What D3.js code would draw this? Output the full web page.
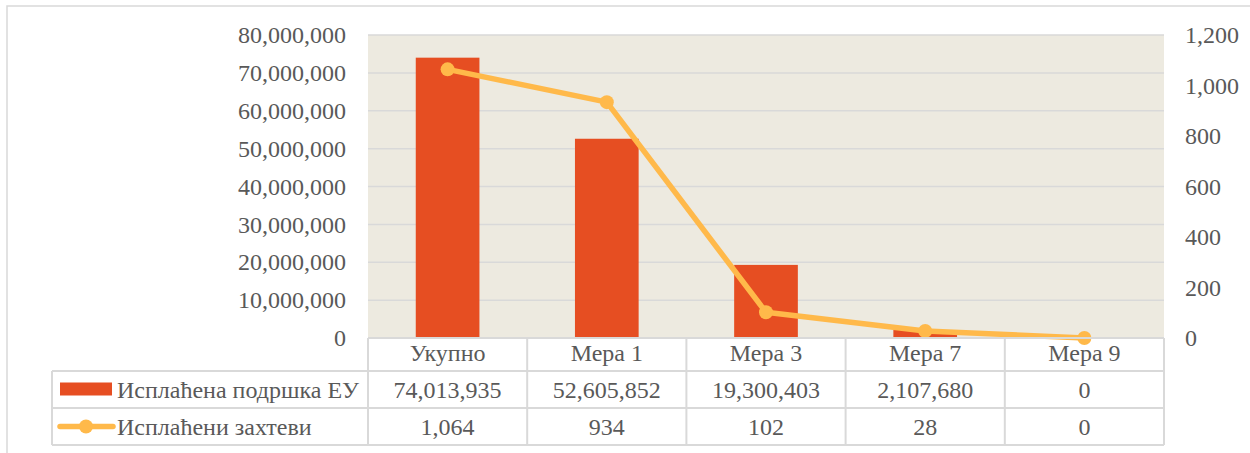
<!DOCTYPE html>
<html>
<head>
<meta charset="utf-8">
<script src="https://cdn.jsdelivr.net/npm/d3@7"></script>
</head>
<body style="margin:0;background:#fff">
<div id="chart"></div>
<script>
// data
const categories = ["Укупно", "Мера 1", "Мера 3", "Мера 7", "Мера 9"]
const support = [74013935, 52605852, 19300403, 2107680, 0]
const claims = [1064, 934, 102, 28, 0]
const seriesNames = ["Исплаћена подршка ЕУ", "Исплаћени захтеви"]
const leftTicks = [0, 10000000, 20000000, 30000000, 40000000, 50000000, 60000000, 70000000, 80000000]
const rightTicks = [0, 200, 400, 600, 800, 1000, 1200]

const w = 1250
const h = 453
const fs = 24
const font = '"Liberation Serif", "Times New Roman", serif'
const textColor = "#595959"
const barColor = "#E64E22"
const lineColor = "#FFB94A"
const gridColor = "#D9D9D9"

// plot box
const pLeft = 368, pRight = 1164, pTop = 35, pBottom = 338
const legendLeft = 52
const rowH = [33, 37, 37]

const svg = d3.select("#chart").append("svg")
  .attr("width", w)
  .attr("height", h)

// outer frame
svg.append("rect")
  .attr("x", 7).attr("y", 6)
  .attr("width", w + 10).attr("height", h + 10)
  .attr("fill", "none")
  .attr("stroke", gridColor)
  .attr("stroke-width", 1.5)

const x = d3.scaleBand().domain(categories).range([pLeft, pRight])
const yL = d3.scaleLinear().domain([0, 80000000]).range([pBottom, pTop])
const yR = d3.scaleLinear().domain([0, 1200]).range([pBottom, pTop])
const fmt = d3.format(",")

svg.append("rect")
  .attr("x", pLeft).attr("y", pTop)
  .attr("width", pRight - pLeft).attr("height", pBottom - pTop)
  .attr("fill", "#EDEAE0")

// gridlines
svg.append("g").selectAll("line")
  .data(leftTicks.slice(1))
  .enter().append("line")
  .attr("x1", pLeft).attr("x2", pRight)
  .attr("y1", d => yL(d)).attr("y2", d => yL(d))
  .attr("stroke", gridColor)
  .attr("stroke-width", 1.5)

const styleText = sel => sel
  .style("font-family", font)
  .style("font-size", fs + "px")
  .style("fill", textColor)

// left axis
const axL = svg.append("g")
  .attr("transform", `translate(${pLeft - 22},0)`)
  .call(d3.axisLeft(yL).tickValues(leftTicks).tickFormat(fmt).tickSize(0).tickPadding(0))
axL.select(".domain").remove()
axL.selectAll("text").call(styleText)

// right axis
const axR = svg.append("g")
  .attr("transform", `translate(${pRight + 21},0)`)
  .call(d3.axisRight(yR).tickValues(rightTicks).tickFormat(fmt).tickSize(0).tickPadding(0))
axR.select(".domain").remove()
axR.selectAll("text").call(styleText)

// bars
const bw = x.bandwidth() * 0.4
svg.append("g").selectAll("rect")
  .data(support)
  .enter().append("rect")
  .attr("x", (d, i) => x(categories[i]) + (x.bandwidth() - bw) / 2)
  .attr("y", d => yL(d))
  .attr("width", bw)
  .attr("height", d => pBottom - yL(d))
  .attr("fill", barColor)

// line
const line = d3.line()
  .x((d, i) => x(categories[i]) + x.bandwidth() / 2)
  .y(d => yR(d))

svg.append("path")
  .datum(claims)
  .attr("d", line)
  .attr("fill", "none")
  .attr("stroke", lineColor)
  .attr("stroke-width", 5.5)
  .attr("stroke-linejoin", "round")

svg.append("g").selectAll("circle")
  .data(claims)
  .enter().append("circle")
  .attr("cx", (d, i) => x(categories[i]) + x.bandwidth() / 2)
  .attr("cy", d => yR(d))
  .attr("r", 7)
  .attr("fill", lineColor)

// data table
const r0 = pBottom, r1 = r0 + rowH[0], r2 = r1 + rowH[1], r3 = r2 + rowH[2]
const tbl = svg.append("g")
const bline = (x1, y1, x2, y2) => tbl.append("line")
  .attr("x1", x1).attr("y1", y1).attr("x2", x2).attr("y2", y2)
  .attr("stroke", gridColor).attr("stroke-width", 2)

bline(pLeft, r0, pRight, r0)
bline(legendLeft, r1, pRight, r1)
bline(legendLeft, r2, pRight, r2)
bline(legendLeft, r3, pRight, r3)
bline(legendLeft, r1, legendLeft, r3)
categories.forEach(c => bline(x(c), r0, x(c), r3))
bline(pRight, r0, pRight, r3)

const cellText = (txt, cx, cy, anchor) => tbl.append("text")
  .attr("x", cx).attr("y", cy)
  .attr("text-anchor", anchor || "middle")
  .attr("dy", "0.35em")
  .call(styleText)
  .text(txt)

categories.forEach((c, i) => {
  const cx = x(c) + x.bandwidth() / 2
  cellText(c, cx, (r0 + r1) / 2 - 1.5)
  cellText(fmt(support[i]), cx, (r1 + r2) / 2)
  cellText(fmt(claims[i]), cx, (r2 + r3) / 2)
})

// legend keys
tbl.append("rect")
  .attr("x", 60).attr("y", (r1 + r2) / 2 - 7)
  .attr("width", 52).attr("height", 13)
  .attr("fill", barColor)
cellText(seriesNames[0], 117, (r1 + r2) / 2, "start")

tbl.append("line")
  .attr("x1", 60).attr("x2", 113)
  .attr("y1", (r2 + r3) / 2).attr("y2", (r2 + r3) / 2)
  .attr("stroke", lineColor).attr("stroke-width", 5.5)
  .attr("stroke-linecap", "round")
tbl.append("circle")
  .attr("cx", 86).attr("cy", (r2 + r3) / 2).attr("r", 7)
  .attr("fill", lineColor)
cellText(seriesNames[1], 117, (r2 + r3) / 2, "start")
</script>
</body>
</html>
